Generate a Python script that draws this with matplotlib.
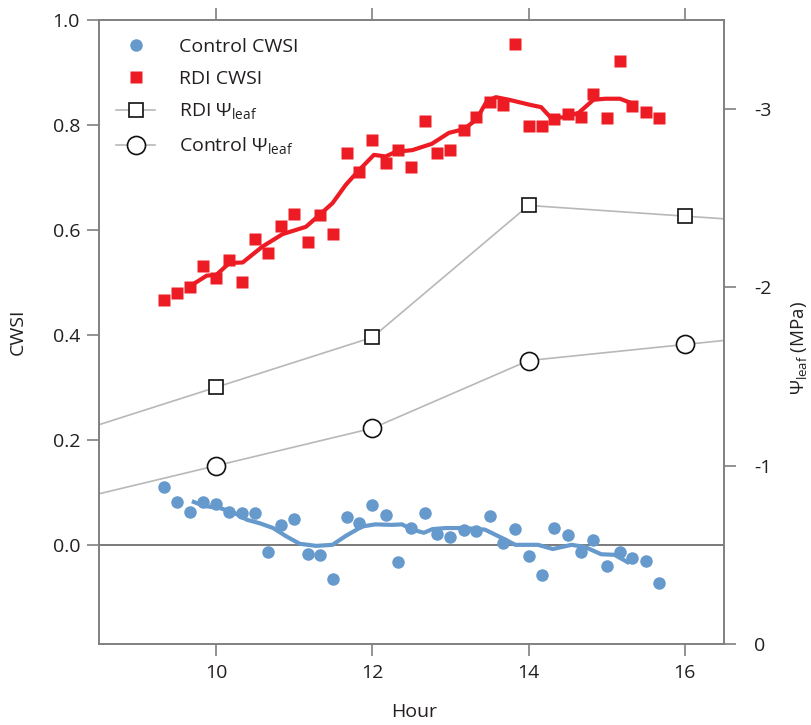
import numpy as np
import matplotlib
matplotlib.use("Agg")
import matplotlib.pyplot as plt
from matplotlib.lines import Line2D

plt.rcParams['font.family'] = ['Open Sans', 'DejaVu Sans']
plt.rcParams['mathtext.fontset'] = 'custom'
plt.rcParams['mathtext.rm'] = 'Open Sans'
plt.rcParams['axes.unicode_minus'] = False

# ---------------- data ----------------
hours = [9.33, 9.5, 9.67, 9.83, 10.0, 10.17, 10.33, 10.5, 10.67, 10.83,
         11.0, 11.17, 11.33, 11.5, 11.67, 11.83, 12.0, 12.17, 12.33, 12.5,
         12.67, 12.83, 13.0, 13.17, 13.33, 13.5, 13.67, 13.83, 14.0, 14.17,
         14.33, 14.5, 14.67, 14.83, 15.0, 15.17, 15.33, 15.5, 15.67]

control_cwsi = [0.111, 0.081, 0.062, 0.081, 0.078, 0.063, 0.060, 0.060, -0.014, 0.038,
                0.049, -0.018, -0.019, -0.065, 0.053, 0.041, 0.076, 0.057, -0.032, 0.032,
                0.060, 0.021, 0.015, 0.029, 0.027, 0.055, 0.003, 0.030, -0.022, -0.058,
                0.033, 0.019, -0.013, 0.010, -0.040, -0.013, -0.025, -0.030, -0.073]

rdi_cwsi = [0.467, 0.480, 0.491, 0.531, 0.509, 0.543, 0.501, 0.583, 0.556, 0.608,
            0.630, 0.577, 0.629, 0.592, 0.747, 0.710, 0.771, 0.728, 0.752, 0.720,
            0.808, 0.747, 0.752, 0.790, 0.815, 0.844, 0.838, 0.954, 0.798, 0.798,
            0.811, 0.821, 0.815, 0.859, 0.813, 0.922, 0.836, 0.825, 0.813]

# smoothed trend curves
rdi_fit_x = [9.71, 9.88, 10.0, 10.17, 10.34, 10.59, 10.85, 11.15, 11.28, 11.49,
             11.66, 11.83, 12.02, 12.17, 12.30, 12.51, 12.76, 12.98, 13.17, 13.33,
             13.46, 13.58, 13.75, 14.03, 14.16, 14.29, 14.47, 14.64, 14.83, 14.98,
             15.17, 15.31]
rdi_fit_y = [0.497, 0.513, 0.514, 0.537, 0.538, 0.568, 0.592, 0.606, 0.623, 0.651,
             0.686, 0.714, 0.743, 0.740, 0.749, 0.752, 0.764, 0.785, 0.792, 0.810,
             0.844, 0.853, 0.848, 0.838, 0.834, 0.813, 0.815, 0.823, 0.848, 0.850,
             0.850, 0.842]

ctrl_fit_x = [9.69, 9.85, 10.05, 10.22, 10.39, 10.56, 10.73, 10.90, 11.07, 11.28,
              11.49, 11.66, 11.87, 12.04, 12.25, 12.38, 12.51, 12.66, 12.77, 12.94,
              13.17, 13.44, 13.66, 13.83, 14.12, 14.31, 14.55, 14.72, 14.93, 15.10,
              15.29]
ctrl_fit_y = [0.083, 0.074, 0.070, 0.062, 0.048, 0.041, 0.032, 0.016, 0.002, -0.002,
              0.000, 0.017, 0.035, 0.039, 0.038, 0.039, 0.029, 0.023, 0.030, 0.032,
              0.032, 0.029, 0.013, 0.000, 0.000, -0.008, 0.000, -0.004, -0.018, -0.019,
              -0.035]

psi_hours = [10, 12, 14, 16]
rdi_psi = [-1.44, -1.72, -2.46, -2.40]
control_psi = [-1.00, -1.21, -1.59, -1.68]

# ---------------- styles ----------------
blue = '#6699cc'
red = '#ed1c24'
axcol = '#808080'
txt = '#231f20'
grey_line = '#b8b8b8'
xlim = (8.5, 16.5)

fig = plt.figure(figsize=(8.11, 7.25), dpi=100)
ax = fig.add_axes([0.122, 0.1117, 0.7706, 0.8607])
ax2 = ax.twinx()
ax2.set_zorder(ax.get_zorder() - 1)
ax.patch.set_visible(False)

ax.set_xlim(*xlim)
ax.set_ylim(-0.189, 1.0)
ax2.set_ylim(0, -3.5)

ax.axhline(0, color='#707070', lw=1.3, zorder=1)

# Psi lines, extended to the axes edges along the first/last segments
def extended(xs, ys):
    xs = list(xs); ys = list(ys)
    sl = (ys[1] - ys[0]) / (xs[1] - xs[0])
    sr = (ys[-1] - ys[-2]) / (xs[-1] - xs[-2])
    x_ext = [xlim[0]] + xs + [xlim[1]]
    y_ext = [ys[0] + sl * (xlim[0] - xs[0])] + ys + [ys[-1] + sr * (xlim[1] - xs[-1])]
    return x_ext, y_ext

for ys in (rdi_psi, control_psi):
    xe, ye = extended(psi_hours, ys)
    ax2.plot(xe, ye, color=grey_line, lw=1.2, zorder=2)

ax2.plot(psi_hours, rdi_psi, ls='none', marker='s', ms=10.5, mfc='white',
         mec='#111111', mew=1.2, zorder=5)
ax2.plot(psi_hours, control_psi, ls='none', marker='o', ms=13, mfc='white',
         mec='#111111', mew=1.2, zorder=5)

ax.plot(hours, control_cwsi, ls='none', marker='o', ms=9, color=blue, mec='none', zorder=3)
ax.plot(hours, rdi_cwsi, ls='none', marker='s', ms=8.3, color=red, mec='none', zorder=3)
ax.plot(ctrl_fit_x, ctrl_fit_y, color=blue, lw=3, solid_capstyle='butt', zorder=4)
ax.plot(rdi_fit_x, rdi_fit_y, color=red, lw=3, solid_capstyle='butt', zorder=4)

# ---------------- axes styling ----------------
for a in (ax, ax2):
    for s in a.spines.values():
        s.set_color(axcol)
        s.set_linewidth(1.2)

ax.set_xticks([10, 12, 14, 16])
ax.set_yticks([0.0, 0.2, 0.4, 0.6, 0.8, 1.0])
ax.set_yticklabels(['0.0', '0.2', '0.4', '0.6', '0.8', '1.0'])
ax.tick_params(axis='x', which='both', direction='out', length=8.6, width=1.2,
               color=axcol, labelsize=14, labelcolor=txt, pad=6, top=True)
ax.tick_params(axis='y', direction='out', length=8.6, width=1.2, color=axcol,
               labelsize=14, labelcolor=txt, pad=5)
ax2.set_yticks([0, -1, -2, -3])
ax2.set_yticklabels(['0', '-1', '-2', '-3'])
ax2.tick_params(axis='y', direction='out', length=8.6, width=1.2, color=axcol,
                labelsize=14, labelcolor=txt, pad=13)

ax.set_xlabel('Hour', fontsize=14, color=txt)
ax.xaxis.set_label_coords(0.505, -0.095)
ax.set_ylabel('CWSI', fontsize=14, color=txt)
ax.yaxis.set_label_coords(-0.115, 0.5)
ax2.set_ylabel(r'Ψ$_\mathregular{leaf}$ (MPa)', fontsize=13.5, color=txt, rotation=90)
ax2.yaxis.set_label_coords(1.106, 0.475)

handles = [
    Line2D([], [], ls='none', marker='o', ms=9, color=blue, mec='none'),
    Line2D([], [], ls='none', marker='s', ms=8.3, color=red, mec='none'),
    Line2D([], [], color=grey_line, lw=1.2, marker='s', ms=10.5, mfc='white', mec='#111111', mew=1.2),
    Line2D([], [], color=grey_line, lw=1.2, marker='o', ms=13, mfc='white', mec='#111111', mew=1.2),
]
labels = ['Control CWSI', 'RDI CWSI', r'RDI Ψ$_\mathregular{leaf}$', r'Control Ψ$_\mathregular{leaf}$']
leg = ax.legend(handles, labels, loc='upper left', bbox_to_anchor=(0.0, 1.0),
                frameon=False, fontsize=14, handlelength=2.0, handletextpad=1.2,
                labelspacing=0.72, borderaxespad=0.5, labelcolor=txt)

fig.savefig('out.png', dpi=100)
